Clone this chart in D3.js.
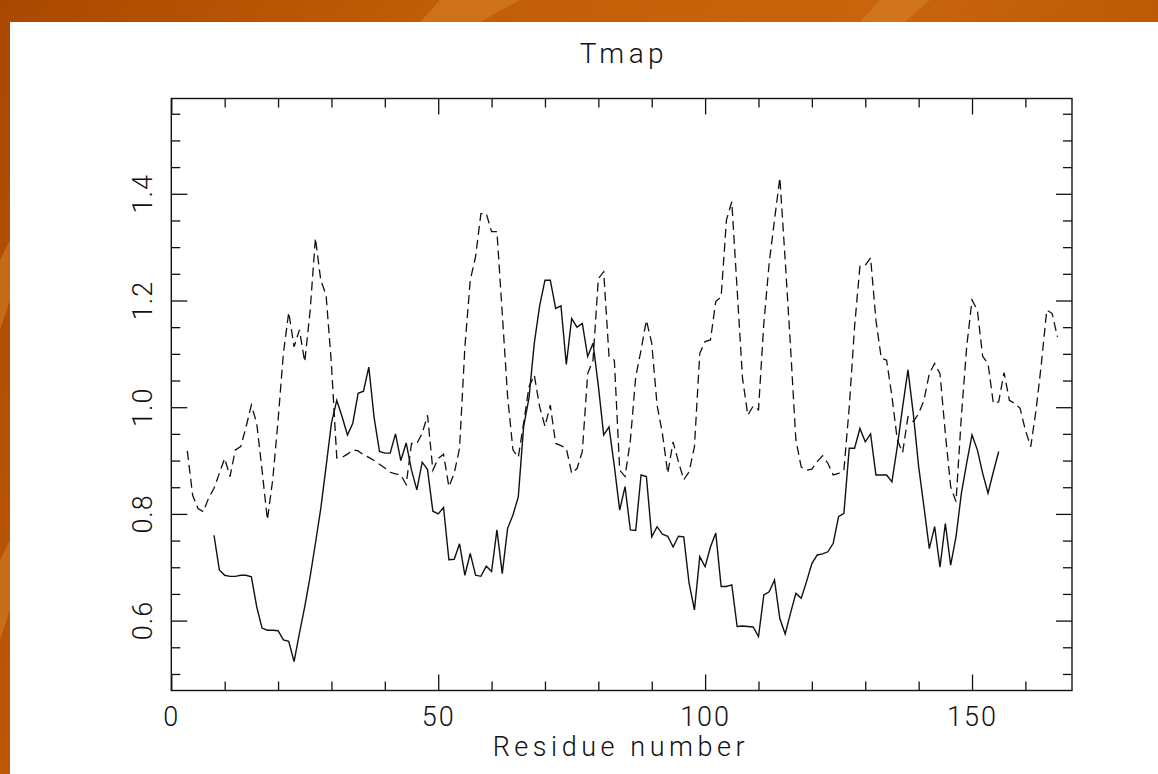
<!DOCTYPE html>
<html>
<head>
<meta charset="utf-8">
<script src="https://cdn.jsdelivr.net/npm/d3@7/dist/d3.min.js"></script>
<style>
  html, body { margin: 0; padding: 0; background: #fff; }
  svg { display: block; }
  text { font-family: Roboto, "Liberation Sans", "DejaVu Sans", sans-serif; font-weight: 300; fill: #111; }
</style>
</head>
<body>
<svg id="chart" width="1158" height="774"></svg>
<script>
// ---- data ----
const title = "Tmap";
const xLabel = "Residue number";
const xMajorTicks = [0, 50, 100, 150];
const yMajorTicks = [0.6, 0.8, 1.0, 1.2, 1.4];
const yTickLabels = ["0.6", "0.8", "1.0", "1.2", "1.4"];

const dashedStart = 3;
const dashedValues = [
  0.918, 0.835, 0.81, 0.804, 0.83, 0.848, 0.876, 0.904, 0.87, 0.92,      // 3-12
  0.926, 0.963, 1.004, 0.97, 0.882, 0.789, 0.864, 0.975, 1.101, 1.178,   // 13-22
  1.113, 1.145, 1.085, 1.18, 1.317, 1.238, 1.21, 1.08, 0.905, 0.906,     // 23-32
  0.912, 0.92, 0.918, 0.911, 0.906, 0.9, 0.893, 0.886, 0.878, 0.875,     // 33-42
  0.873, 0.855, 0.932, 0.932, 0.951, 0.985, 0.882, 0.904, 0.912, 0.851,  // 43-52
  0.876, 0.923, 1.113, 1.238, 1.282, 1.363, 1.363, 1.329, 1.329, 1.176,  // 53-62
  1.02, 0.92, 0.906, 0.97, 1.038, 1.06, 1.001, 0.964, 1.004, 0.932,      // 63-72
  0.928, 0.923, 0.876, 0.885, 0.917, 1.063, 1.088, 1.241, 1.254, 1.095,  // 73-82
  1.088, 0.882, 0.87, 0.938, 1.057, 1.107, 1.163, 1.12, 1.004, 0.951,    // 83-92
  0.876, 0.935, 0.898, 0.864, 0.879, 0.926, 1.101, 1.123, 1.126, 1.198,  // 93-102
  1.207, 1.351, 1.385, 1.22, 1.055, 0.985, 1.002, 0.995, 1.157, 1.27,    // 103-112
  1.351, 1.43, 1.276, 1.113, 0.939, 0.888, 0.882, 0.884, 0.898, 0.909,   // 113-122
  0.895, 0.873, 0.876, 0.882, 1.0, 1.151, 1.264, 1.266, 1.28, 1.163,     // 123-132
  1.092, 1.088, 1.02, 0.939, 0.915, 0.982, 0.973, 0.988, 1.013, 1.063,   // 133-142
  1.082, 1.063, 0.951, 0.851, 0.823, 0.982, 1.113, 1.201, 1.182, 1.095,  // 143-152
  1.082, 1.007, 1.01, 1.065, 1.013, 1.007, 0.998, 0.957, 0.926, 0.995,   // 153-162
  1.082, 1.182, 1.176, 1.132                                             // 163-166
];

const solidStart = 8;
const solidValues = [
  0.76, 0.695, 0.685, 0.683, 0.683, 0.685, 0.685, 0.682, 0.626, 0.586,   // 8-17
  0.582, 0.582, 0.581, 0.564, 0.561, 0.523, 0.576, 0.626, 0.682, 0.745,  // 18-27
  0.81, 0.889, 0.97, 1.013, 0.982, 0.948, 0.97, 1.026, 1.03, 1.075,      // 28-37
  0.98, 0.917, 0.914, 0.914, 0.95, 0.9, 0.933, 0.882, 0.845, 0.897,      // 38-47
  0.883, 0.805, 0.80, 0.812, 0.714, 0.715, 0.744, 0.685, 0.726, 0.685,   // 48-57
  0.683, 0.702, 0.692, 0.77, 0.688, 0.773, 0.798, 0.832, 0.963, 1.017,   // 58-67
  1.12, 1.19, 1.238, 1.238, 1.185, 1.19, 1.08, 1.166, 1.15, 1.157,       // 68-77
  1.095, 1.12, 1.04, 0.948, 0.963, 0.889, 0.807, 0.851, 0.77, 0.769,     // 78-87
  0.873, 0.87, 0.757, 0.776, 0.762, 0.758, 0.738, 0.758, 0.757, 0.67,    // 88-97
  0.62, 0.72, 0.701, 0.738, 0.764, 0.664, 0.664, 0.667, 0.589, 0.59,     // 98-107
  0.589, 0.588, 0.57, 0.648, 0.654, 0.676, 0.604, 0.575, 0.614, 0.651,   // 108-117
  0.642, 0.673, 0.707, 0.723, 0.725, 0.729, 0.745, 0.795, 0.801, 0.923,  // 118-127
  0.923, 0.96, 0.935, 0.95, 0.873, 0.873, 0.873, 0.86, 0.926, 1.0,       // 128-137
  1.07, 0.988, 0.889, 0.813, 0.735, 0.776, 0.70, 0.782, 0.704, 0.757,    // 138-147
  0.838, 0.895, 0.948, 0.92, 0.876, 0.839, 0.879, 0.917                  // 148-155
];

// ---- layout ----
const W = 1158, H = 774;
const plot = { left: 171.3, right: 1072, top: 98.5, bottom: 690.5 };
const xDomain = [0, 168.73];
const yDomain = [0.469, 1.5786];

const svg = d3.select("#chart");

// background (orange frame)
const defs = svg.append("defs");
const grad = defs.append("linearGradient").attr("id", "bg").attr("x1", "0").attr("y1", "0").attr("x2", "1").attr("y2", "0.3");
grad.append("stop").attr("offset", "0").attr("stop-color", "#a94800");
grad.append("stop").attr("offset", "0.35").attr("stop-color", "#c15d06");
grad.append("stop").attr("offset", "0.7").attr("stop-color", "#c8650c");
grad.append("stop").attr("offset", "1").attr("stop-color", "#b95604");
svg.append("rect").attr("width", W).attr("height", H).attr("fill", "url(#bg)");
// a few lighter streaks on the frame
const streaks = [[[0,260],[10,240],[10,300],[0,330]], [[0,560],[10,540],[10,610],[0,640]], [[440,0],[520,0],[480,22],[420,22]], [[880,0],[930,0],[905,22],[860,22]]];
svg.selectAll("polygon.streak").data(streaks).join("polygon")
  .attr("class", "streak")
  .attr("points", d => d.map(p => p.join(",")).join(" "))
  .attr("fill", "#d7842a").attr("opacity", 0.55);
svg.append("rect").attr("x", 10).attr("y", 22).attr("width", W - 10).attr("height", H - 22).attr("fill", "#ffffff");

// scales
const x = d3.scaleLinear().domain(xDomain).range([plot.left, plot.right]);
const y = d3.scaleLinear().domain(yDomain).range([plot.bottom, plot.top]);

const xMinor = d3.range(0, 168, 10).filter(v => !xMajorTicks.includes(v));
const yMinor = d3.range(0.5, 1.56, 0.05).map(v => +v.toFixed(2)).filter(v => !yMajorTicks.some(m => Math.abs(m - v) < 1e-6));

const MAJ = 16, MIN = 9;
function styleAxis(g) {
  g.select(".domain").remove();
  g.selectAll(".tick line").attr("stroke", "#111").attr("stroke-width", 1.3);
}

// bottom axis with labels
svg.append("g").attr("transform", `translate(0,${plot.bottom})`)
  .call(d3.axisBottom(x).tickValues(xMajorTicks).tickSize(-MAJ).tickPadding(16).tickFormat(d3.format("d")))
  .call(styleAxis)
  .call(g => g.selectAll(".tick text").attr("font-size", 27).attr("letter-spacing", 2)
      .attr("font-family", "Roboto, 'Liberation Sans', sans-serif").attr("font-weight", 300).attr("fill", "#111"));
svg.append("g").attr("transform", `translate(0,${plot.bottom})`)
  .call(d3.axisBottom(x).tickValues(xMinor).tickSize(-MIN).tickFormat(""))
  .call(styleAxis);
// top axis
svg.append("g").attr("transform", `translate(0,${plot.top})`)
  .call(d3.axisTop(x).tickValues(xMajorTicks).tickSize(-MAJ).tickFormat(""))
  .call(styleAxis);
svg.append("g").attr("transform", `translate(0,${plot.top})`)
  .call(d3.axisTop(x).tickValues(xMinor).tickSize(-MIN).tickFormat(""))
  .call(styleAxis);
// left axis
svg.append("g").attr("transform", `translate(${plot.left},0)`)
  .call(d3.axisLeft(y).tickValues(yMajorTicks).tickSize(-MAJ).tickFormat(""))
  .call(styleAxis);
svg.append("g").attr("transform", `translate(${plot.left},0)`)
  .call(d3.axisLeft(y).tickValues(yMinor).tickSize(-MIN).tickFormat(""))
  .call(styleAxis);
// right axis
svg.append("g").attr("transform", `translate(${plot.right},0)`)
  .call(d3.axisRight(y).tickValues(yMajorTicks).tickSize(-MAJ).tickFormat(""))
  .call(styleAxis);
svg.append("g").attr("transform", `translate(${plot.right},0)`)
  .call(d3.axisRight(y).tickValues(yMinor).tickSize(-MIN).tickFormat(""))
  .call(styleAxis);

// y labels (rotated)
svg.append("g").selectAll("text").data(yMajorTicks).join("text")
  .attr("transform", d => `translate(${plot.left - 19.5},${y(d)}) rotate(-90)`)
  .attr("text-anchor", "middle")
  .attr("font-size", 27).attr("letter-spacing", 1)
  .text((d, i) => yTickLabels[i]);

// frame
svg.append("rect").attr("x", plot.left).attr("y", plot.top)
  .attr("width", plot.right - plot.left).attr("height", plot.bottom - plot.top)
  .attr("fill", "none").attr("stroke", "#111").attr("stroke-width", 1.4);

// lines
const line = d3.line().x(d => x(d[0])).y(d => y(d[1]));
const dashedData = dashedValues.map((v, i) => [dashedStart + i, v]);
const solidData = solidValues.map((v, i) => [solidStart + i, v]);

svg.append("path").datum(dashedData).attr("d", line)
  .attr("fill", "none").attr("stroke", "#111").attr("stroke-width", 1.3)
  .attr("stroke-dasharray", "9,5");
svg.append("path").datum(solidData).attr("d", line)
  .attr("fill", "none").attr("stroke", "#111").attr("stroke-width", 1.4);

// title & x label
svg.append("text").attr("x", (plot.left + plot.right) / 2).attr("y", 62.7)
  .attr("text-anchor", "middle").attr("font-size", 28)
  .attr("textLength", 84).attr("lengthAdjust", "spacing")
  .text(title);
svg.append("text").attr("x", (plot.left + plot.right) / 2 - 3).attr("y", 756)
  .attr("text-anchor", "middle").attr("font-size", 27)
  .attr("textLength", 252).attr("lengthAdjust", "spacing")
  .text(xLabel);
</script>
</body>
</html>
